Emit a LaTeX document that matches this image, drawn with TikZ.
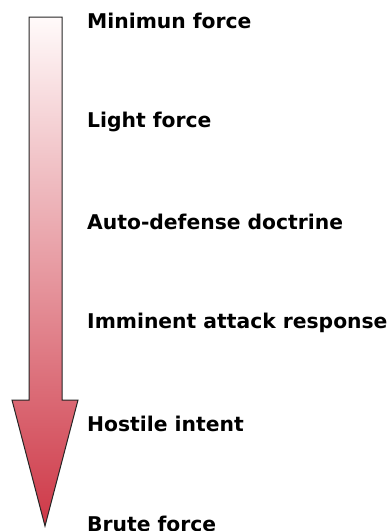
\documentclass[tikz,border=0pt]{standalone}
\usepackage{fontspec}
\setmainfont{DejaVu Sans}
\begin{document}
\begin{tikzpicture}[x=1pt,y=-1pt,
  lbl/.style={anchor=west,inner sep=0pt,font=\bfseries\fontsize{20.3}{23}\selectfont,text=black}]
\useasboundingbox (0,0) rectangle (391,531);
\definecolor{arrtop}{HTML}{FFFAFA}
\definecolor{arrbot}{HTML}{CE3847}
\shade[top color=arrtop,bottom color=arrbot,draw=black!85,line width=1pt,line join=miter]
  (29,17) -- (62,17) -- (62,400) -- (78,400) -- (45,526) -- (12,400) -- (29,400) -- cycle;
\node[lbl] (l1) at (87,21) {Minimun force};
\node[lbl] (l2) at (87,122) {Light force};
\node[lbl] (l3) at (87,222) {Auto-defense doctrine};
\node[lbl] (l4) at (87,323) {Imminent attack response};
\node[lbl] (l5) at (87,424) {Hostile intent};
\node[lbl] (l6) at (87,524) {Brute force};
\end{tikzpicture}
\end{document}
